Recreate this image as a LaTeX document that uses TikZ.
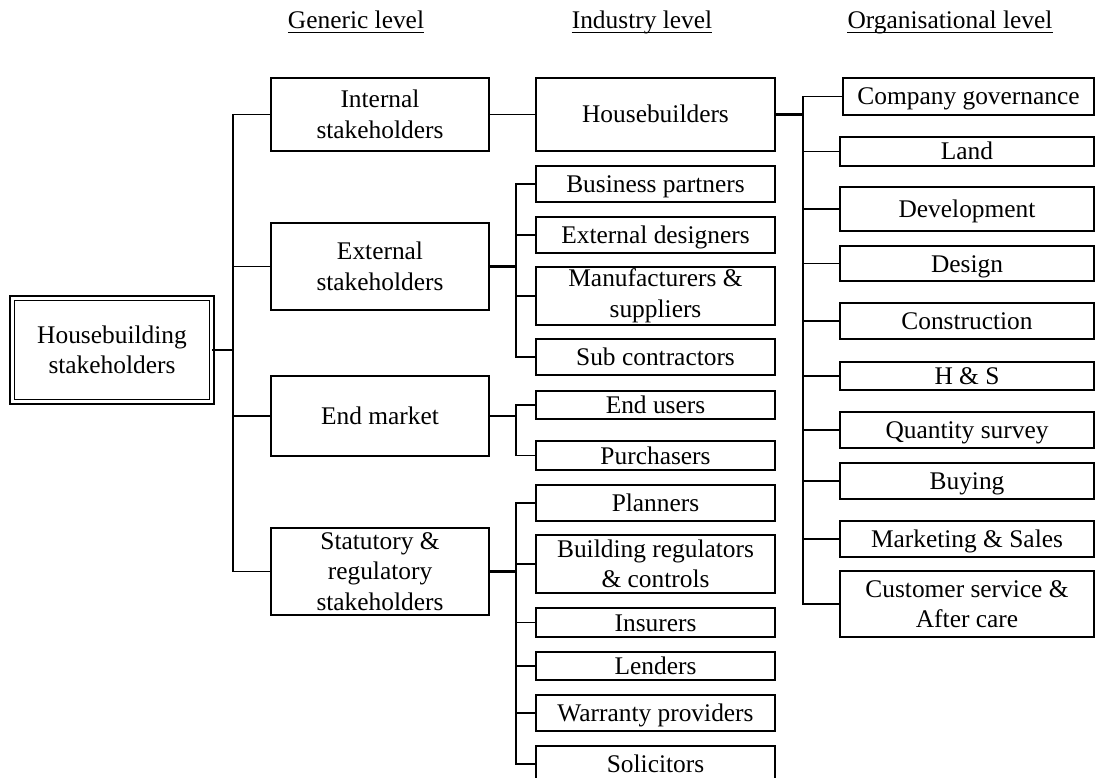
\documentclass[tikz,border=0pt]{standalone}
\usepackage{fontspec}
\setmainfont{Liberation Serif}
\begin{document}
\begin{tikzpicture}[x=1pt,y=-1pt,
  bx/.style 2 args={draw, line width=1.4pt, inner sep=0pt, align=center,
    minimum width=#1pt, minimum height=#2pt,
    font=\fontsize{25.4}{30.5}\selectfont},
  one/.style={text height=17pt, text depth=0pt},
  con/.style={line width=1.6pt},
  bus/.style={line width=2.1pt},
  head/.style={inner sep=0pt, anchor=base, font=\fontsize{25.4}{30.5}\selectfont}]
\useasboundingbox (0,0) rectangle (1099,778);

% headings
\node[head] (h1) at (356,29) {Generic level};
\node[head] (h2) at (642,29) {Industry level};
\node[head] (h3) at (950,29) {Organisational level};
\foreach \h in {h1,h2,h3}
  \draw[line width=1.2pt] ([yshift=-3.5pt]\h.base west) -- ([yshift=-3.5pt]\h.base east);

% root
\node[bx={199.5}{103.5}, double, double distance=3.3pt, line width=1.2pt] (root) at (112,350) {Housebuilding\\stakeholders};

% generic level
\node[bx={218}{73}] (int) at (380,114.5) {Internal\\stakeholders};
\node[bx={218}{87}] (ext) at (380,266.5) {External\\stakeholders};
\node[bx={218}{80}, one] (end) at (380,416) {End market};
\node[bx={218}{87}] (stat) at (380,571.5) {Statutory \&\\regulatory\\stakeholders};

% industry level
\node[bx={239}{73}, one] (hb) at (655.5,114.5) {Housebuilders};
\node[bx={239}{36}, one] (bp) at (655.5,184) {Business partners};
\node[bx={239}{36}, one] (ed) at (655.5,235) {External designers};
\node[bx={239}{58}] (ms) at (655.5,296) {Manufacturers \&\\suppliers};
\node[bx={239}{36}, one] (sc) at (655.5,357) {Sub contractors};
\node[bx={239}{28}, one] (eu) at (655.5,405) {End users};
\node[bx={239}{29}, one] (pu) at (655.5,455.5) {Purchasers};
\node[bx={239}{36}, one] (pl) at (655.5,503) {Planners};
\node[bx={239}{58}] (br) at (655.5,564) {Building regulators\\\& controls};
\node[bx={239}{29}, one] (in) at (655.5,622.5) {Insurers};
\node[bx={239}{28}, one] (le) at (655.5,666) {Lenders};
\node[bx={239}{36}, one] (wp) at (655.5,713) {Warranty providers};
\node[bx={239}{36}, one] (so) at (655.5,764) {Solicitors};

% organisational level
\node[bx={251}{37}, one] (cg) at (968.5,96.5) {Company governance};
\node[bx={254}{29}, one] (la) at (967,151.5) {Land};
\node[bx={254}{44}, one] (dv) at (967,209) {Development};
\node[bx={254}{35}, one] (de) at (967,263.5) {Design};
\node[bx={254}{36}, one] (co) at (967,321) {Construction};
\node[bx={254}{28}, one] (hs) at (967,376) {H \& S};
\node[bx={254}{36}, one] (qs) at (967,430) {Quantity survey};
\node[bx={254}{36}, one] (bu) at (967,481) {Buying};
\node[bx={254}{36}, one] (mk) at (967,539) {Marketing \& Sales};
\node[bx={254}{66}] (cs) at (967,604) {Customer service \&\\After care};

% bus coordinates
\coordinate (trunk) at (233,350);
\coordinate (eb) at (516,266.5);
\coordinate (emb) at (516,416);
\coordinate (sb) at (516,571.5);
\coordinate (ob) at (803,114.5);

% connectors
\draw[bus] (root.east) -- (trunk);
\foreach \n in {int,ext,end,stat} \draw[con] (\n.west) -| (trunk);
\draw[con] (int.east) -- (hb.west);
\draw[bus] (ext.east) -- (eb);
\foreach \n in {bp,ed,ms,sc} \draw[con] (\n.west) -| (eb);
\draw[bus] (end.east) -- (emb);
\foreach \n in {eu,pu} \draw[con] (\n.west) -| (emb);
\draw[bus] (stat.east) -- (sb);
\foreach \n in {pl,br,in,le,wp,so} \draw[con] (\n.west) -| (sb);
\draw[bus] (hb.east) -- (ob);
\foreach \n in {cg,la,dv,de,co,hs,qs,bu,mk,cs} \draw[con] (\n.west) -| (ob);
\end{tikzpicture}
\end{document}
